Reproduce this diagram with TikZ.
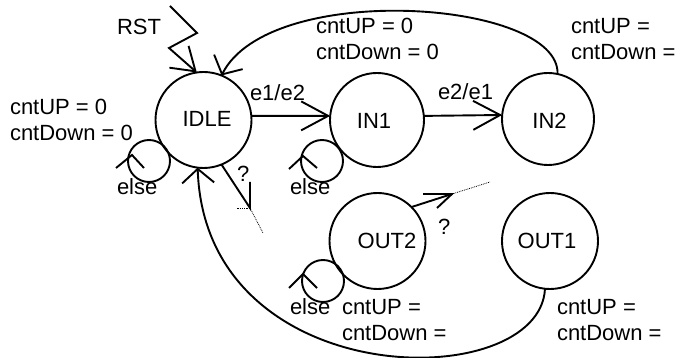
\documentclass[tikz,border=0pt]{standalone}
\usepackage{fontspec}
\setmainfont{Liberation Sans}
\usetikzlibrary{arrows.meta}
\newcommand\labtwo[2]{\begin{tabular}[t]{@{}l@{}}#1\\#2\end{tabular}}
\begin{document}
\begin{tikzpicture}[x=1pt,y=-1pt,
  every node/.style={font=\fontsize{22}{25.5}\selectfont, inner sep=0pt, outer sep=0pt},
  state/.style={draw, circle, line width=1.9pt},
  conn/.style={line width=1.9pt},
  bigtip/.style={-{Straight Barb[length=27pt,width=29pt]}},
  rsttip/.style={-{Straight Barb[length=22pt,width=29pt]}},
  curvetip/.style={-{Straight Barb[length=14pt,width=32pt]}},
  ghost/.style={densely dotted, line width=0.8pt},
  lab/.style={anchor=base west},
]
\useasboundingbox (0,0) rectangle (681,358);
% states
\node[state, minimum size=96pt] (idle) at (203.5,120) {};
\node (idlet) at (207,119) {IDLE};
\node[state, minimum size=94pt] (in1) at (377,120) {};
\node (in1t) at (374,120.5) {IN1};
\node[state, minimum size=92pt] (in2) at (548,119) {};
\node (in2t) at (549.5,120.5) {IN2};
\node[state, minimum size=96pt] (out2) at (377.5,241) {};
\node (out2t) at (387,241) {OUT2};
\node[state, minimum size=96pt] (out1) at (550,241) {};
\node (out1t) at (547,241) {OUT1};
% labels
\node[lab] (lblidle) at (10,115) {\labtwo{cntUP = 0}{cntDown = 0}};
\node[lab] (lbltop) at (316,34) {\labtwo{cntUP = 0}{cntDown = 0}};
\node[lab] (lblin2) at (571,34) {\labtwo{cntUP =}{cntDown =}};
\node[lab] (lblout2) at (342,315) {\labtwo{cntUP =}{cntDown =}};
\node[lab] (lblout1) at (557,315) {\labtwo{cntUP =}{cntDown =}};
\node[lab] (rst) at (117,35) {RST};
\node[lab] (e1e2) at (250,101) {e1/e2};
\node[lab] (e2e1) at (438,100) {e2/e1};
\node[lab] (else1) at (117,195) {else};
\node[lab] (else2) at (290,195) {else};
\node[lab] (else3) at (290,315) {else};
\node[lab] (q1) at (237,182) {?};
\node[lab] (q2) at (438,235) {?};
% connectors
\coordinate (rststart) at (170,6);
\draw[conn, rsttip] (rststart) -- (197,33) -- (169,48) -- (idle.98);
\draw[conn, bigtip] (idle.5) -- (in1.175);
\draw[conn, bigtip] (in1.5) -- (in2.175);
\draw[conn, curvetip] (in2.78) .. controls (560,0) and (270,-20) .. (idle.68);
\draw[conn, curvetip] (out1.-96) .. controls (540,395) and (205,395) .. (idle.-97);
% dangling arrow from IDLE
\coordinate (qa) at (250,208);
\coordinate (qaend) at (263,233);
\draw[conn] (idle.-68) -- (qa) -- ++(0,-26);
\draw[ghost] (qa) -- ++(-14,0);
\draw[ghost] (qa) -- (qaend);
% dangling arrow from OUT2
\coordinate (qb) at (452,194);
\coordinate (qbend) at (490,182);
\draw[conn] (out2.45) -- (qb);
\draw[conn] (423,194) -- (qb) -- (437,208);
\draw[ghost] (qb) -- (qbend);
% self loops
\draw[conn] (149,161) circle[radius=21];
\draw[conn] (116,168) -- (132,155) -- (144,168);
\draw[conn] (322,161) circle[radius=21];
\draw[conn] (289,169) -- (303,156) -- (317,168);
\draw[conn] (323,281) circle[radius=21];
\draw[conn] (289,288) -- (303,274) -- (317,288);
\end{tikzpicture}
\end{document}
